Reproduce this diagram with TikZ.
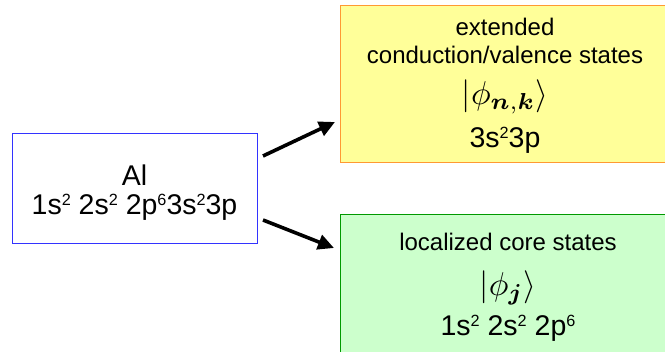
\documentclass[tikz,border=0pt]{standalone}
\usepackage{fontspec}
\setmainfont{Liberation Sans}
\usepackage{amsmath}
\usepackage{bm}
\usepackage{graphicx}
\usetikzlibrary{arrows.meta}
\definecolor{yfill}{RGB}{255,255,153}
\definecolor{ydraw}{RGB}{255,153,51}
\definecolor{gfill}{RGB}{204,255,204}
\definecolor{gdraw}{RGB}{0,153,0}
\definecolor{bdraw}{RGB}{51,51,255}
\newcommand\spr[1]{\raisebox{0.31em}{\scalebox{0.57}{#1}}}
\newcommand\bigmath[1]{\scalebox{3.3}{$#1$}}
\tikzset{
  box/.style={draw, rectangle, inner sep=0pt, anchor=north west},
  big/.style={inner sep=0pt, font=\fontsize{28.5}{32}\selectfont},
  lab/.style={inner sep=0pt, font=\fontsize{24}{28}\selectfont},
  mth/.style={inner sep=0pt, font=\normalsize},
  arr/.style={line width=3.6pt, -{Triangle[length=16pt,width=15pt]}},
}
\begin{document}
\begin{tikzpicture}[x=1pt,y=-1pt]
\useasboundingbox (0,0) rectangle (665,352);
\node[box, draw=bdraw, line width=0.8pt, minimum width=245pt, minimum height=110pt] (al) at (12,133) {};
\node[box, draw=ydraw, fill=yfill, line width=1.2pt, minimum width=340pt, minimum height=157pt] (ext) at (340,5) {};
\node[box, draw=gdraw, fill=gfill, line width=1.2pt, minimum width=340pt, minimum height=160pt] (core) at (340,214) {};
\node[big] (alname) at (134.5,175) {Al};
\node[big] (alconf) at (134.5,207) {1s\spr{2} 2s\spr{2} 2p\spr{6}3s\spr{2}3p};
\node[lab] (e1) at (505,27) {extended};
\node[lab] (e2) at (505,55) {conduction/valence states};
\node[mth] (e3) at (505,97) {\bigmath{|\phi_{\bm{n},\bm{k}}\rangle}};
\node[big] (e4) at (505,140) {3s\spr{2}3p};
\node[lab] (c1) at (508,242) {localized core states};
\node[mth] (c2) at (508,288) {\bigmath{|\phi_{\bm{j}}\rangle}};
\node[big] (c3) at (508,328) {1s\spr{2} 2s\spr{2} 2p\spr{6}};
\coordinate (a1s) at (263,156);
\coordinate (a1e) at (335,122);
\coordinate (a2s) at (263,220);
\coordinate (a2e) at (334,248);
\draw[arr] (a1s) -- (a1e);
\draw[arr] (a2s) -- (a2e);
\end{tikzpicture}
\end{document}
